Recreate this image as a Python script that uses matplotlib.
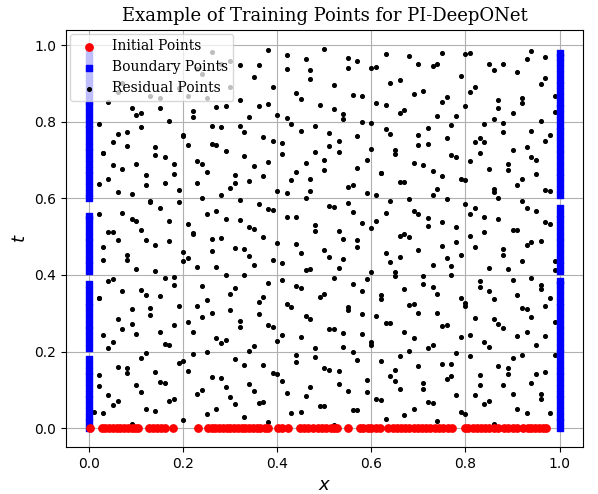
import numpy as np
import matplotlib
matplotlib.use('Agg')
import matplotlib.pyplot as plt

# initial condition points (t = 0)
init_x = [0.002, 0.026, 0.034, 0.042, 0.05, 0.058, 0.066, 0.074, 0.082, 0.09, 0.098, 0.104,
          0.127, 0.135, 0.145, 0.152, 0.162, 0.178, 0.232, 0.252, 0.26, 0.268, 0.276, 0.284,
          0.292, 0.3, 0.308, 0.316, 0.324, 0.332, 0.34, 0.348, 0.356, 0.364, 0.374, 0.381,
          0.402, 0.41, 0.422, 0.449, 0.457, 0.466, 0.476, 0.486, 0.495, 0.503, 0.514, 0.52,
          0.527, 0.551, 0.575, 0.583, 0.592, 0.6, 0.61, 0.618, 0.636, 0.645, 0.654, 0.662,
          0.672, 0.68, 0.69, 0.699, 0.707, 0.716, 0.725, 0.735, 0.744, 0.753, 0.762, 0.771,
          0.798, 0.806, 0.815, 0.824, 0.833, 0.842, 0.851, 0.86, 0.869, 0.882, 0.89, 0.9,
          0.91, 0.923, 0.932, 0.94, 0.948, 0.956, 0.964, 0.971]

# boundary points (x = 0 and x = 1)
bnd_t_left = [0.0, 0.015, 0.03, 0.045, 0.06, 0.075, 0.09, 0.105, 0.12, 0.135, 0.15, 0.165, 0.18,
              0.21, 0.225, 0.24, 0.255, 0.27, 0.285, 0.3, 0.315, 0.33, 0.345, 0.36, 0.375,
              0.41, 0.425, 0.44, 0.455, 0.47, 0.485, 0.5, 0.515, 0.53, 0.545, 0.555,
              0.6, 0.615, 0.63, 0.645, 0.66, 0.675, 0.69, 0.705, 0.72, 0.735, 0.75, 0.765,
              0.78, 0.795, 0.81, 0.825, 0.84, 0.855, 0.87, 0.885, 0.9, 0.915, 0.93, 0.945,
              0.96, 0.975, 0.99]
bnd_t_right = [0.0, 0.015, 0.03, 0.045, 0.06, 0.075, 0.09, 0.105, 0.12, 0.135, 0.15, 0.165,
               0.18, 0.195, 0.21, 0.225, 0.24, 0.255, 0.27, 0.285, 0.3, 0.315, 0.33, 0.345,
               0.36, 0.375, 0.385, 0.41, 0.425, 0.44, 0.455, 0.47, 0.485, 0.5, 0.515, 0.53,
               0.545, 0.56, 0.575, 0.61, 0.625, 0.64, 0.655, 0.67, 0.685, 0.7, 0.715, 0.73,
               0.745, 0.76, 0.775, 0.79, 0.805, 0.82, 0.835, 0.85, 0.865, 0.88, 0.895, 0.91,
               0.925, 0.94, 0.955, 0.97, 0.98]

# residual (collocation) points
res_x = [0.03, 0.09, 0.14, 0.2, 0.27, 0.33, 0.38, 0.45, 0.52, 0.57, 0.63, 0.69, 0.74, 0.8, 0.86, 0.93, 0.98,
         0.05, 0.11, 0.17, 0.24, 0.3, 0.36, 0.42, 0.49, 0.55, 0.61, 0.66, 0.72, 0.78, 0.84, 0.9, 0.96,
         0.02, 0.08, 0.15, 0.21, 0.28, 0.34, 0.4, 0.47, 0.53, 0.59, 0.65, 0.71, 0.77, 0.83, 0.89, 0.95,
         0.06, 0.12, 0.19, 0.25, 0.31, 0.37, 0.44, 0.5, 0.56, 0.62, 0.68, 0.75, 0.81, 0.87, 0.92, 0.99,
         0.04, 0.1, 0.16, 0.22, 0.29, 0.35, 0.41, 0.48, 0.54, 0.6, 0.67, 0.73, 0.79, 0.85, 0.91, 0.97,
         0.07, 0.13, 0.18, 0.26, 0.32, 0.39, 0.46, 0.51, 0.58, 0.64, 0.7, 0.76, 0.82, 0.88, 0.94,
         0.02, 0.09, 0.15, 0.23, 0.3, 0.36, 0.43, 0.49, 0.55, 0.62, 0.69, 0.74, 0.8, 0.86, 0.93, 0.98,
         0.05, 0.11, 0.18, 0.24, 0.33, 0.38, 0.45, 0.52, 0.58, 0.65, 0.71, 0.77, 0.83, 0.9, 0.96,
         0.03, 0.08, 0.14, 0.21, 0.27, 0.34, 0.41, 0.47, 0.54, 0.6, 0.66, 0.73, 0.79, 0.85, 0.92, 0.99,
         0.06, 0.12, 0.2, 0.26, 0.31, 0.37, 0.44, 0.5, 0.57, 0.63, 0.68, 0.75, 0.81, 0.88, 0.94,
         0.04, 0.1, 0.17, 0.22, 0.29, 0.35, 0.42, 0.48, 0.53, 0.61, 0.67, 0.72, 0.78, 0.84, 0.91, 0.97,
         0.07, 0.13, 0.19, 0.25, 0.32, 0.39, 0.46, 0.51, 0.56, 0.64, 0.7, 0.76, 0.82, 0.87, 0.95,
         0.02, 0.09, 0.16, 0.23, 0.28, 0.34, 0.4, 0.47, 0.55, 0.59, 0.66, 0.73, 0.8, 0.86, 0.92, 0.98,
         0.05, 0.12, 0.18, 0.24, 0.31, 0.38, 0.44, 0.5, 0.57, 0.62, 0.69, 0.75, 0.81, 0.89, 0.95,
         0.03, 0.08, 0.14, 0.21, 0.27, 0.33, 0.41, 0.48, 0.53, 0.6, 0.65, 0.72, 0.78, 0.84, 0.9, 0.97,
         0.06, 0.11, 0.2, 0.26, 0.32, 0.37, 0.43, 0.51, 0.58, 0.63, 0.7, 0.77, 0.83, 0.88, 0.94,
         0.04, 0.1, 0.15, 0.22, 0.29, 0.36, 0.42, 0.49, 0.54, 0.61, 0.67, 0.74, 0.8, 0.86, 0.92, 0.99,
         0.07, 0.13, 0.19, 0.25, 0.3, 0.39, 0.45, 0.52, 0.56, 0.64, 0.71, 0.76, 0.82, 0.87, 0.96,
         0.24, 0.28, 0.35, 0.42, 0.47, 0.55, 0.6, 0.66, 0.73, 0.79, 0.85, 0.91, 0.97,
         0.26, 0.32, 0.38, 0.46, 0.5, 0.57, 0.63, 0.7, 0.75, 0.81, 0.88, 0.94]
res_t = [0.03] * 17 + [0.08] * 16 + [0.13] * 16 + [0.18] * 16 + [0.23] * 16 + \
        [0.28] * 15 + [0.33] * 16 + [0.38] * 15 + [0.43] * 16 + [0.48] * 15 + \
        [0.53] * 16 + [0.58] * 15 + [0.63] * 16 + [0.68] * 15 + [0.73] * 16 + \
        [0.78] * 15 + [0.83] * 16 + [0.88] * 15 + [0.93] * 13 + [0.97] * 12
# hand-read offsets so rows don't look ruled
res_jit = [0.01, -0.02, 0.015, -0.01, 0.02, 0.0, -0.015, 0.012, -0.022, 0.018, -0.005, 0.021, -0.012, 0.007, -0.018, 0.01]
res_t = [t + res_jit[i % len(res_jit)] for i, t in enumerate(res_t)]

# second batch of residual points filling the gaps between bands
res2_x = [0.01, 0.06, 0.12, 0.18, 0.25, 0.31, 0.37, 0.43, 0.5, 0.56, 0.62, 0.67, 0.73, 0.79, 0.85, 0.91, 0.96,
          0.04, 0.1, 0.16, 0.23, 0.29, 0.35, 0.41, 0.46, 0.53, 0.59, 0.65, 0.71, 0.76, 0.82, 0.88, 0.94,
          0.02, 0.08, 0.14, 0.2, 0.26, 0.33, 0.39, 0.44, 0.51, 0.57, 0.64, 0.7, 0.77, 0.83, 0.89, 0.97,
          0.05, 0.11, 0.17, 0.22, 0.28, 0.34, 0.4, 0.48, 0.54, 0.6, 0.66, 0.72, 0.78, 0.84, 0.9, 0.95,
          0.03, 0.09, 0.15, 0.21, 0.27, 0.32, 0.38, 0.45, 0.52, 0.58, 0.63, 0.69, 0.75, 0.81, 0.87, 0.93, 0.99,
          0.06, 0.13, 0.19, 0.24, 0.3, 0.36, 0.42, 0.47, 0.55, 0.61, 0.68, 0.74, 0.8, 0.86, 0.92, 0.97,
          0.02, 0.07, 0.12, 0.18, 0.25, 0.31, 0.37, 0.44, 0.5, 0.56, 0.62, 0.67, 0.73, 0.79, 0.85, 0.91, 0.96,
          0.04, 0.1, 0.16, 0.23, 0.29, 0.35, 0.41, 0.46, 0.53, 0.59, 0.65, 0.71, 0.77, 0.83, 0.89, 0.94,
          0.03, 0.08, 0.14, 0.2, 0.26, 0.33, 0.39, 0.45, 0.51, 0.57, 0.64, 0.7, 0.76, 0.82, 0.88, 0.93, 0.99,
          0.05, 0.11, 0.17, 0.22, 0.28, 0.34, 0.4, 0.48, 0.54, 0.6, 0.66, 0.72, 0.78, 0.84, 0.9, 0.96,
          0.02, 0.09, 0.15, 0.21, 0.27, 0.32, 0.38, 0.44, 0.52, 0.58, 0.63, 0.69, 0.75, 0.81, 0.87, 0.93, 0.98,
          0.06, 0.13, 0.19, 0.24, 0.3, 0.36, 0.42, 0.47, 0.55, 0.61, 0.68, 0.74, 0.8, 0.86, 0.92, 0.97,
          0.04, 0.07, 0.12, 0.18, 0.25, 0.31, 0.37, 0.43, 0.5, 0.56, 0.62, 0.67, 0.73, 0.79, 0.85, 0.91, 0.95,
          0.03, 0.1, 0.16, 0.23, 0.29, 0.35, 0.41, 0.46, 0.53, 0.59, 0.65, 0.71, 0.77, 0.83, 0.89, 0.94,
          0.05, 0.08, 0.14, 0.2, 0.26, 0.33, 0.39, 0.45, 0.51, 0.57, 0.64, 0.7, 0.76, 0.82, 0.88, 0.93, 0.98,
          0.02, 0.11, 0.17, 0.22, 0.28, 0.34, 0.4, 0.48, 0.54, 0.6, 0.66, 0.72, 0.78, 0.84, 0.9, 0.96,
          0.06, 0.09, 0.15, 0.21, 0.27, 0.32, 0.38, 0.44, 0.52, 0.58, 0.63, 0.69, 0.75, 0.81, 0.87, 0.92, 0.99,
          0.23, 0.3, 0.36, 0.42, 0.47, 0.55, 0.61, 0.68, 0.74, 0.8, 0.86, 0.93, 0.97]
res2_t = [0.055] * 17 + [0.105] * 16 + [0.155] * 16 + [0.205] * 16 + [0.255] * 17 + \
         [0.305] * 16 + [0.355] * 17 + [0.405] * 16 + [0.455] * 17 + [0.505] * 16 + \
         [0.555] * 17 + [0.605] * 16 + [0.655] * 17 + [0.705] * 16 + [0.755] * 17 + \
         [0.805] * 16 + [0.855] * 17 + [0.955] * 13
res2_jit = [-0.012, 0.017, -0.004, 0.022, -0.019, 0.008, 0.013, -0.016, 0.003, -0.008, 0.019, -0.021, 0.011]
res2_t = [t + res2_jit[i % len(res2_jit)] for i, t in enumerate(res2_t)]

fig, ax = plt.subplots(figsize=(5.98, 4.94), dpi=100)
ax.scatter(res_x + res2_x, res_t + res2_t, s=7, c='black', label='Residual Points', zorder=2)
ax.scatter([0.0] * len(bnd_t_left) + [1.0] * len(bnd_t_right), bnd_t_left + bnd_t_right,
           s=18, c='blue', marker='s', label='Boundary Points', zorder=3)
ax.scatter(init_x, [0.0] * len(init_x), s=28, c='red', label='Initial Points', zorder=3)

ax.set_title('Example of Training Points for PI-DeepONet', fontsize=13, family='DejaVu Serif')
ax.set_xlabel('$x$', fontsize=13)
ax.set_ylabel('$t$', fontsize=13)
ax.grid(True, color='#b0b0b0', linewidth=0.8)
ax.set_axisbelow(True)

h, l = ax.get_legend_handles_labels()
ax.legend(h[::-1], l[::-1], loc='upper left', prop={'family': 'DejaVu Serif', 'size': 10},
          framealpha=0.75, handletextpad=0.6, borderaxespad=0.3)

plt.subplots_adjust(left=0.11, right=0.975, top=0.94, bottom=0.095)
plt.savefig('out.png', dpi=100)
